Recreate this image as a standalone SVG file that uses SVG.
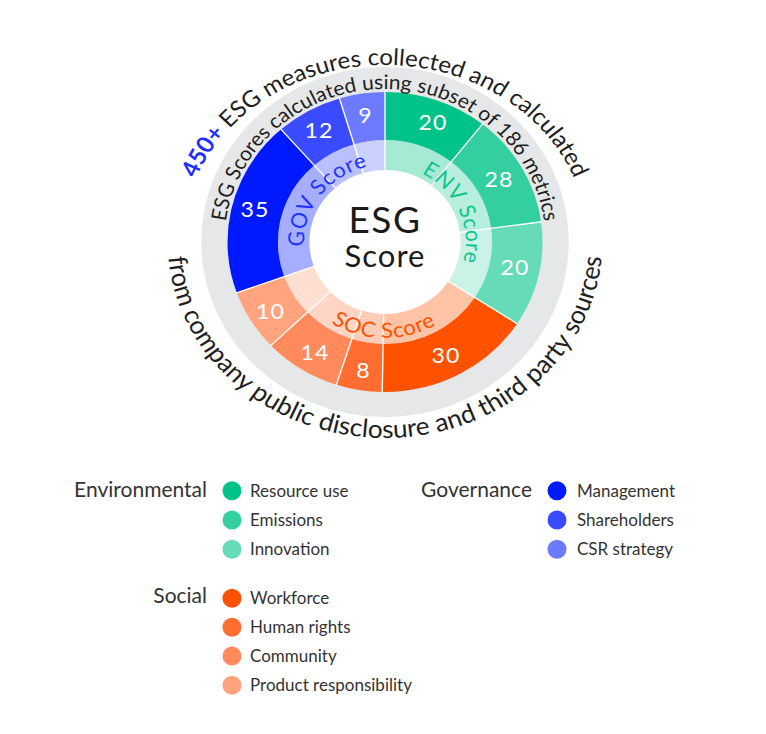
<svg xmlns="http://www.w3.org/2000/svg" width="766" height="734" viewBox="0 0 766 734">
<style>
text{font-family:Lato,"Open Sans",sans-serif}
.seg{fill:none}
.o{stroke-width:48}
.i{stroke-width:30;stroke-opacity:.35}
.sep{stroke:#fff;stroke-width:1.3}
.num{fill:#fff;font-size:22px;text-anchor:middle;letter-spacing:1px}
.arc{fill:#1e1e1e}
.lg{font-size:17px;fill:#333}
.lh{font-size:21px;fill:#333;text-anchor:end}
.sub{font-size:21px;letter-spacing:0.8px}
</style>
<defs>
<path id="pTop" d="M -193 0 A 193 177 0 0 1 193 0"/>
<path id="pIn" d="M -153 0 A 153 153 0 0 1 153 0"/>
<path id="pBot" d="M -207 0 A 207 196 0 0 0 207 0"/>
<path id="pGov" d="M 0 77 A 77 77 0 0 1 0 -77 A 77 77 0 0 1 0 77"/>
<path id="pEnv" d="M 0 -77 A 77 77 0 0 1 0 77 A 77 77 0 0 1 0 -77"/>
<path id="pSoc" d="M 0 -96 A 96 96 0 0 0 0 96 A 96 96 0 0 0 0 -96"/>
</defs>
<rect width="766" height="734" fill="#fff"/>
<g id="chart" transform="translate(385 242) scale(1.05 1)">
<circle id="band" r="175" fill="#e6e7e8"/>
<circle r="102" fill="#fff"/>
<g id="seg-resource">
<circle class="seg o" r="126" pathLength="360" transform="rotate(-90)" stroke="#00c389" stroke-dasharray="0 0 38.2 400"/>
<circle class="seg i" r="87" pathLength="360" transform="rotate(-90)" stroke="#00c389" stroke-dasharray="0 0 38.2 400"/>
</g>
<g id="seg-emissions">
<circle class="seg o" r="126" pathLength="360" transform="rotate(-90)" stroke="#33cfa1" stroke-dasharray="0 38.2 44.1 400"/>
<circle class="seg i" r="87" pathLength="360" transform="rotate(-90)" stroke="#33cfa1" stroke-dasharray="0 38.2 44.1 400"/>
</g>
<g id="seg-innovation">
<circle class="seg o" r="126" pathLength="360" transform="rotate(-90)" stroke="#66dbb8" stroke-dasharray="0 82.3 40.7 400"/>
<circle class="seg i" r="87" pathLength="360" transform="rotate(-90)" stroke="#66dbb8" stroke-dasharray="0 82.3 40.7 400"/>
</g>
<g id="seg-workforce">
<circle class="seg o" r="126" pathLength="360" transform="rotate(-90)" stroke="#ff5200" stroke-dasharray="0 123 58 400"/>
<circle class="seg i" r="87" pathLength="360" transform="rotate(-90)" stroke="#ff5200" stroke-dasharray="0 123 58 400"/>
</g>
<g id="seg-human-rights">
<circle class="seg o" r="126" pathLength="360" transform="rotate(-90)" stroke="#ff6d30" stroke-dasharray="0 181 17 400"/>
<circle class="seg i" r="87" pathLength="360" transform="rotate(-90)" stroke="#ff6d30" stroke-dasharray="0 181 17 400"/>
</g>
<g id="seg-community">
<circle class="seg o" r="126" pathLength="360" transform="rotate(-90)" stroke="#ff8a5c" stroke-dasharray="0 198 28.4 400"/>
<circle class="seg i" r="87" pathLength="360" transform="rotate(-90)" stroke="#ff8a5c" stroke-dasharray="0 198 28.4 400"/>
</g>
<g id="seg-product">
<circle class="seg o" r="126" pathLength="360" transform="rotate(-90)" stroke="#ffa47f" stroke-dasharray="0 226.4 23.8 400"/>
<circle class="seg i" r="87" pathLength="360" transform="rotate(-90)" stroke="#ffa47f" stroke-dasharray="0 226.4 23.8 400"/>
</g>
<g id="seg-management">
<circle class="seg o" r="126" pathLength="360" transform="rotate(-90)" stroke="#0019ff" stroke-dasharray="0 250.2 68.5 400"/>
<circle class="seg i" r="87" pathLength="360" transform="rotate(-90)" stroke="#0019ff" stroke-dasharray="0 250.2 68.5 400"/>
</g>
<g id="seg-shareholders">
<circle class="seg o" r="126" pathLength="360" transform="rotate(-90)" stroke="#3a4aff" stroke-dasharray="0 318.7 24.5 400"/>
<circle class="seg i" r="87" pathLength="360" transform="rotate(-90)" stroke="#3a4aff" stroke-dasharray="0 318.7 24.5 400"/>
</g>
<g id="seg-csr">
<circle class="seg o" r="126" pathLength="360" transform="rotate(-90)" stroke="#6b7aff" stroke-dasharray="0 343.2 16.8 400"/>
<circle class="seg i" r="87" pathLength="360" transform="rotate(-90)" stroke="#6b7aff" stroke-dasharray="0 343.2 16.8 400"/>
</g>
<g id="separators">
<line class="sep" x1="0" y1="-71" x2="0" y2="-151"/>
<line class="sep" x1="0" y1="-71" x2="0" y2="-151" transform="rotate(38.2)"/>
<line class="sep" x1="0" y1="-71" x2="0" y2="-151" transform="rotate(82.3)"/>
<line class="sep" x1="0" y1="-71" x2="0" y2="-151" transform="rotate(123)"/>
<line class="sep" x1="0" y1="-71" x2="0" y2="-151" transform="rotate(181)"/>
<line class="sep" x1="0" y1="-71" x2="0" y2="-151" transform="rotate(198)"/>
<line class="sep" x1="0" y1="-71" x2="0" y2="-151" transform="rotate(226.4)"/>
<line class="sep" x1="0" y1="-71" x2="0" y2="-151" transform="rotate(250.2)"/>
<line class="sep" x1="0" y1="-71" x2="0" y2="-151" transform="rotate(318.7)"/>
<line class="sep" x1="0" y1="-71" x2="0" y2="-151" transform="rotate(343.2)"/>
</g>
<g id="numbers">
<text class="num" x="45.7" y="-112">20</text>
<text class="num" x="108.6" y="-55">28</text>
<text class="num" x="123.8" y="33">20</text>
<text class="num" x="58.1" y="121">30</text>
<text class="num" x="-20.5" y="136">8</text>
<text class="num" x="-66.7" y="118">14</text>
<text class="num" x="-109" y="77">10</text>
<text class="num" x="-123.8" y="-25">35</text>
<text class="num" x="-62.9" y="-104">12</text>
<text class="num" x="-18.6" y="-119">9</text>
</g>
<g id="ring-labels">
<text class="sub" fill="#2233ff"><textPath href="#pGov" startOffset="170.7" text-anchor="middle">GOV Score</textPath></text>
<text class="sub" fill="#12c48b"><textPath href="#pEnv" startOffset="88.7" text-anchor="middle">ENV Score</textPath></text>
<text class="sub" fill="#ff5200"><textPath href="#pSoc" startOffset="299.9" text-anchor="middle">SOC Score</textPath></text>
</g>
<g id="arc-texts">
<text class="arc" font-size="23"><textPath href="#pTop" startOffset="50%" text-anchor="middle"><tspan fill="#1f2dff" font-weight="700">450+</tspan> ESG measures collected and calculated</textPath></text>
<text class="arc" font-size="20"><textPath href="#pIn" startOffset="50%" text-anchor="middle">ESG Scores calculated using subset of 186 metrics</textPath></text>
<text class="arc" font-size="25"><textPath href="#pBot" startOffset="50%" text-anchor="middle">from company public disclosure and third party sources</textPath></text>
</g>
</g>
<g id="center">
<text x="385" y="233" font-size="37" fill="#1a1a1a" text-anchor="middle" letter-spacing="1.5">ESG</text>
<text x="385" y="267" font-size="31" fill="#1a1a1a" text-anchor="middle" letter-spacing="1">Score</text>
</g>
<g id="legend-env">
<text class="lh" x="207" y="497">Environmental</text>
<circle cx="232" cy="490.7" r="9.5" fill="#00c389"/><text class="lg" x="250" y="496.7">Resource use</text>
<circle cx="232" cy="520" r="9.5" fill="#33cfa1"/><text class="lg" x="250" y="526">Emissions</text>
<circle cx="232" cy="549.3" r="9.5" fill="#66dbb8"/><text class="lg" x="250" y="555.3">Innovation</text>
</g>
<g id="legend-soc">
<text class="lh" x="207" y="603">Social</text>
<circle cx="232" cy="598.3" r="9.5" fill="#ff5200"/><text class="lg" x="250" y="604.3">Workforce</text>
<circle cx="232" cy="627.3" r="9.5" fill="#ff6d30"/><text class="lg" x="250" y="633.3">Human rights</text>
<circle cx="232" cy="656" r="9.5" fill="#ff8a5c"/><text class="lg" x="250" y="662">Community</text>
<circle cx="232" cy="685.3" r="9.5" fill="#ffa47f"/><text class="lg" x="250" y="691.3">Product responsibility</text>
</g>
<g id="legend-gov">
<text class="lh" x="532" y="497">Governance</text>
<circle cx="557" cy="490.7" r="9.5" fill="#0019ff"/><text class="lg" x="577" y="496.7">Management</text>
<circle cx="557" cy="520" r="9.5" fill="#3a4aff"/><text class="lg" x="577" y="526">Shareholders</text>
<circle cx="557" cy="549.3" r="9.5" fill="#6b7aff"/><text class="lg" x="577" y="555.3">CSR strategy</text>
</g>
</svg>
